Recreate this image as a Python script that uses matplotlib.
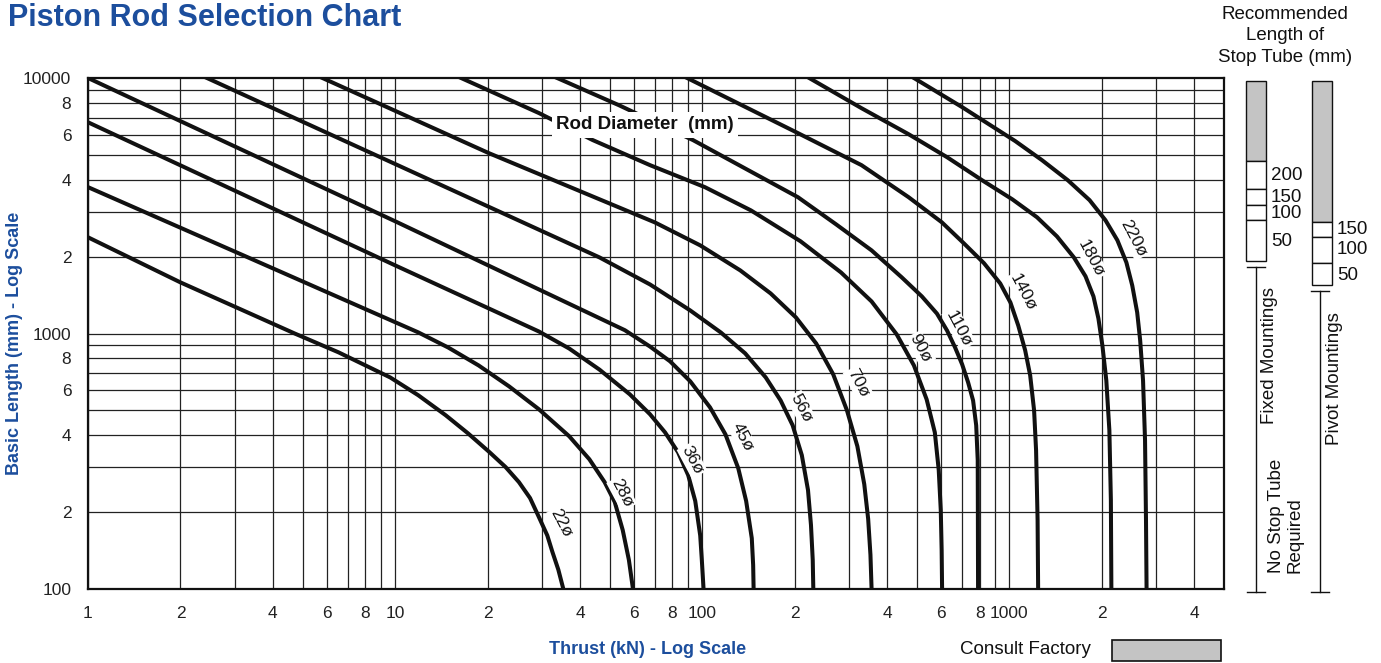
import matplotlib.pyplot as plt
from matplotlib.patches import Rectangle
from matplotlib.ticker import FixedLocator, NullLocator

plt.rcParams['font.family'] = ['Liberation Sans', 'DejaVu Sans']

# --------------------------------------------------------------
# data: thrust (kN) and basic length (mm)
rod_names = ["22", "28", "36", "45", "56", "70", "90", "110", "140", "180", "220"]

rod22_F = [1, 2, 4.71, 6.54, 9.64, 11.9, 14.6, 17.3, 20.3, 22.9, 25.3, 27.5, 29.4, 31.3, 32.5, 34.0, 35.3]
rod22_L = [2380, 1585, 1000, 844, 673, 573, 479, 406, 343, 300, 262, 227, 191, 162, 140, 119, 100]

rod28_F = [1, 3.32, 11.9, 14.9, 18.7, 23.5, 29.4, 36.9, 42.9, 48.1, 51.9, 55.1, 57.7, 59.5]
rod28_L = [3740, 1985, 1010, 881, 750, 621, 505, 396, 322, 262, 219, 170, 130, 100]

rod36_F = [1, 10, 29.4, 36.9, 46.3, 58.1, 67.6, 75.7, 83.4, 90.0, 94.9, 98.5, 99.7, 101]
rod36_L = [6710, 1848, 1018, 873, 722, 578, 483, 410, 343, 279, 221, 162, 130, 100]

rod45_F = [1, 10, 56, 67.6, 78.6, 91.4, 106, 119, 131, 139, 145, 146.5, 147]
rod45_L = [10000, 2750, 1030, 889, 778, 650, 514, 403, 297, 221, 158, 124, 100]

rod56_F = [2.44, 46.3, 67.6, 91.4, 115, 138, 161, 180, 197, 211, 221, 226, 229, 230]
rod56_L = [10000, 1985, 1556, 1231, 1009, 836, 673, 547, 437, 334, 244, 178, 130, 100]

rod70_F = [5.8, 20.2, 70.1, 98.5, 133, 167, 202, 235, 267, 296, 320, 337, 347, 353, 356]
rod70_L = [10000, 5080, 2722, 2213, 1766, 1435, 1155, 914, 692, 500, 362, 257, 188, 136, 100]

rod90_F = [16.4, 29.4, 44.0, 67.6, 102, 144, 209, 283, 356, 430, 489, 538, 572, 589, 598, 602, 604]
rod90_L = [10000, 7290, 5715, 4560, 3740, 3034, 2296, 1734, 1335, 991, 750, 552, 410, 292, 204, 142, 100]

rod110_F = [33.7, 53.5, 93.3, 205, 273, 356, 446, 519, 581, 627, 666, 702, 734, 762, 780, 789, 790, 791]
rod110_L = [10000, 7830, 5715, 3415, 2673, 2115, 1660, 1397, 1197, 1027, 881, 757, 644, 547, 437, 319, 186, 100]

rod140_F = [89.3, 205, 330, 470, 603, 711, 827, 934, 1008, 1069, 1126, 1169, 1204, 1222, 1236, 1241]
rod140_L = [10000, 6085, 4560, 3415, 2723, 2254, 1884, 1570, 1323, 1075, 859, 686, 500, 349, 186, 100]

rod180_F = [223, 330, 470, 627, 815, 1023, 1231, 1429, 1622, 1770, 1879, 1950, 2009, 2069, 2117, 2141, 2149]
rod180_L = [10000, 7620, 6025, 4898, 3981, 3350, 2850, 2399, 1986, 1675, 1397, 1145, 898, 655, 418, 223, 100]

rod220_F = [489, 702, 1045, 1278, 1550, 1825, 2056, 2248, 2405, 2513, 2608, 2667, 2725, 2766, 2786, 2798]
rod220_L = [10000, 7690, 5665, 4767, 3981, 3326, 2775, 2317, 1897, 1542, 1209, 940, 655, 382, 186, 100]

rod_F = [rod22_F, rod28_F, rod36_F, rod45_F, rod56_F, rod70_F,
         rod90_F, rod110_F, rod140_F, rod180_F, rod220_F]
rod_L = [rod22_L, rod28_L, rod36_L, rod45_L, rod56_L, rod70_L,
         rod90_L, rod110_L, rod140_L, rod180_L, rod220_L]

# where the diameter labels sit
label_F = [34.8, 54.7, 92.7, 135, 210, 322, 514, 685, 1104, 1844, 2531]
label_L = [181, 237, 319, 393, 509, 638, 873, 1047, 1449, 1968, 2360]

# ticks
x_ticks = [1, 2, 4, 6, 8, 10, 20, 40, 60, 80, 100, 200, 400, 600, 800, 1000, 2000, 4000]
x_tick_labels = ["1", "2", "4", "6", "8", "10", "2", "4", "6", "8", "100",
                 "2", "4", "6", "8", "1000", "2", "4"]
y_ticks = [100, 200, 400, 600, 800, 1000, 2000, 4000, 6000, 8000, 10000]
y_tick_labels = ["100", "2", "4", "6", "8", "1000", "2", "4", "6", "8", "10000"]

grid_x = [m * 10 ** e for e in range(0, 4) for m in range(1, 10)]
grid_y = [m * 10 ** e for e in range(2, 4) for m in range(1, 10)]

# stop tube columns (mm)
fixed_tubes = ["200", "150", "100", "50"]
pivot_tubes = ["150", "100", "50"]

blue = "#1c4e9d"
grey_fill = "#c4c4c4"
ink = "#111111"
# --------------------------------------------------------------

fig = plt.figure(figsize=(13.81, 6.63), dpi=100)

# overlay in pixel units for the side panel
ov = fig.add_axes([0, 0, 1, 1])
ov.set_xlim(0, 1381)
ov.set_ylim(663, 0)
ov.axis("off")

ax = fig.add_axes([88 / 1381, 1 - 589 / 663, (1224 - 88) / 1381, (589 - 78) / 663])
ax.set_xscale("log")
ax.set_yscale("log")
ax.set_xlim(1, 5000)
ax.set_ylim(100, 10000)

# grid lines
for gx in grid_x:
    ax.axvline(gx, color="#222222", lw=0.9, zorder=1)
for gy in grid_y:
    ax.axhline(gy, color="#222222", lw=0.9, zorder=1)

# rod curves
for F, L in zip(rod_F, rod_L):
    ax.plot(F, L, color=ink, lw=2.9, solid_joinstyle="round", zorder=3)

# diameter labels
for name, fx, ly in zip(rod_names, label_F, label_L):
    ax.text(fx, ly, name + "ø", fontsize=12.5, rotation=-62, rotation_mode="anchor",
            ha="center", va="center", color=ink, zorder=4,
            bbox=dict(facecolor="white", edgecolor="none", pad=1.0))

ax.text(65, 6550, "Rod Diameter  (mm)", fontsize=13.5, fontweight="bold",
        ha="center", va="center", color=ink, zorder=5,
        bbox=dict(facecolor="white", edgecolor="none", pad=3))

# ticks
ax.xaxis.set_major_locator(FixedLocator(x_ticks))
ax.xaxis.set_minor_locator(NullLocator())
ax.set_xticklabels(x_tick_labels)
ax.yaxis.set_major_locator(FixedLocator(y_ticks))
ax.yaxis.set_minor_locator(NullLocator())
ax.set_yticklabels(y_tick_labels)
ax.tick_params(length=0, labelsize=12.5, labelcolor="#222222", pad=12)

for s in ax.spines.values():
    s.set_linewidth(1.6)
    s.set_color(ink)
    s.set_zorder(6)

# title and axis labels
fig.text(8 / 1381, 1 - 18 / 663, "Piston Rod Selection Chart", fontsize=22,
         fontweight="bold", color=blue, ha="left", va="center")
ov.text(648, 650, "Thrust (kN) - Log Scale", fontsize=13, fontweight="bold",
        color=blue, ha="center", va="center")
ov.text(15, 343, "Basic Length (mm) - Log Scale", fontsize=13, fontweight="bold",
        color=blue, ha="center", va="center", rotation=90)

# side panel
ov.text(1285, 36, "Recommended\nLength of\nStop Tube (mm)", fontsize=13.5,
        ha="center", va="center", linespacing=1.35, color=ink)

# fixed mountings column
ov.add_patch(Rectangle((1246, 81), 20, 80, facecolor=grey_fill, edgecolor=ink, lw=1))
fixed_y = [161, 189, 205, 220]
fixed_h = [28, 16, 15, 41]
fixed_ty = [175, 197, 213, 242]
for y0, h, ty, txt in zip(fixed_y, fixed_h, fixed_ty, fixed_tubes):
    ov.add_patch(Rectangle((1246, y0), 20, h, facecolor="white", edgecolor=ink, lw=1))
    ov.text(1271, ty, txt, fontsize=13.5, ha="left", va="center", color=ink)

# pivot mountings column
ov.add_patch(Rectangle((1312, 81), 20, 141, facecolor=grey_fill, edgecolor=ink, lw=1))
pivot_y = [222, 237, 263]
pivot_h = [15, 26, 22]
pivot_ty = [229, 250, 275]
for y0, h, ty, txt in zip(pivot_y, pivot_h, pivot_ty, pivot_tubes):
    ov.add_patch(Rectangle((1312, y0), 20, h, facecolor="white", edgecolor=ink, lw=1))
    ov.text(1337, ty, txt, fontsize=13.5, ha="left", va="center", color=ink)

# range lines
ov.plot([1256, 1256], [267, 592], color=ink, lw=1)
ov.plot([1247, 1265], [267, 267], color=ink, lw=1)
ov.plot([1247, 1265], [592, 592], color=ink, lw=1)
ov.plot([1320, 1320], [291, 592], color=ink, lw=1)
ov.plot([1311, 1329], [291, 291], color=ink, lw=1)
ov.plot([1311, 1329], [592, 592], color=ink, lw=1)

ov.text(1270, 356, "Fixed Mountings", fontsize=13.5, rotation=90,
        ha="center", va="center", color=ink)
ov.text(1286, 573, "No Stop Tube\nRequired", fontsize=13.5, rotation=90,
        ha="center", va="bottom", multialignment="left", linespacing=1.15, color=ink)
ov.text(1335, 379, "Pivot Mountings", fontsize=13.5, rotation=90,
        ha="center", va="center", color=ink)

# consult factory key
ov.text(1025, 650, "Consult Factory", fontsize=13.5, ha="center", va="center", color=ink)
ov.add_patch(Rectangle((1112, 640), 109, 21, facecolor=grey_fill, edgecolor=ink, lw=1.2))

fig.savefig("out.png", dpi=100)
